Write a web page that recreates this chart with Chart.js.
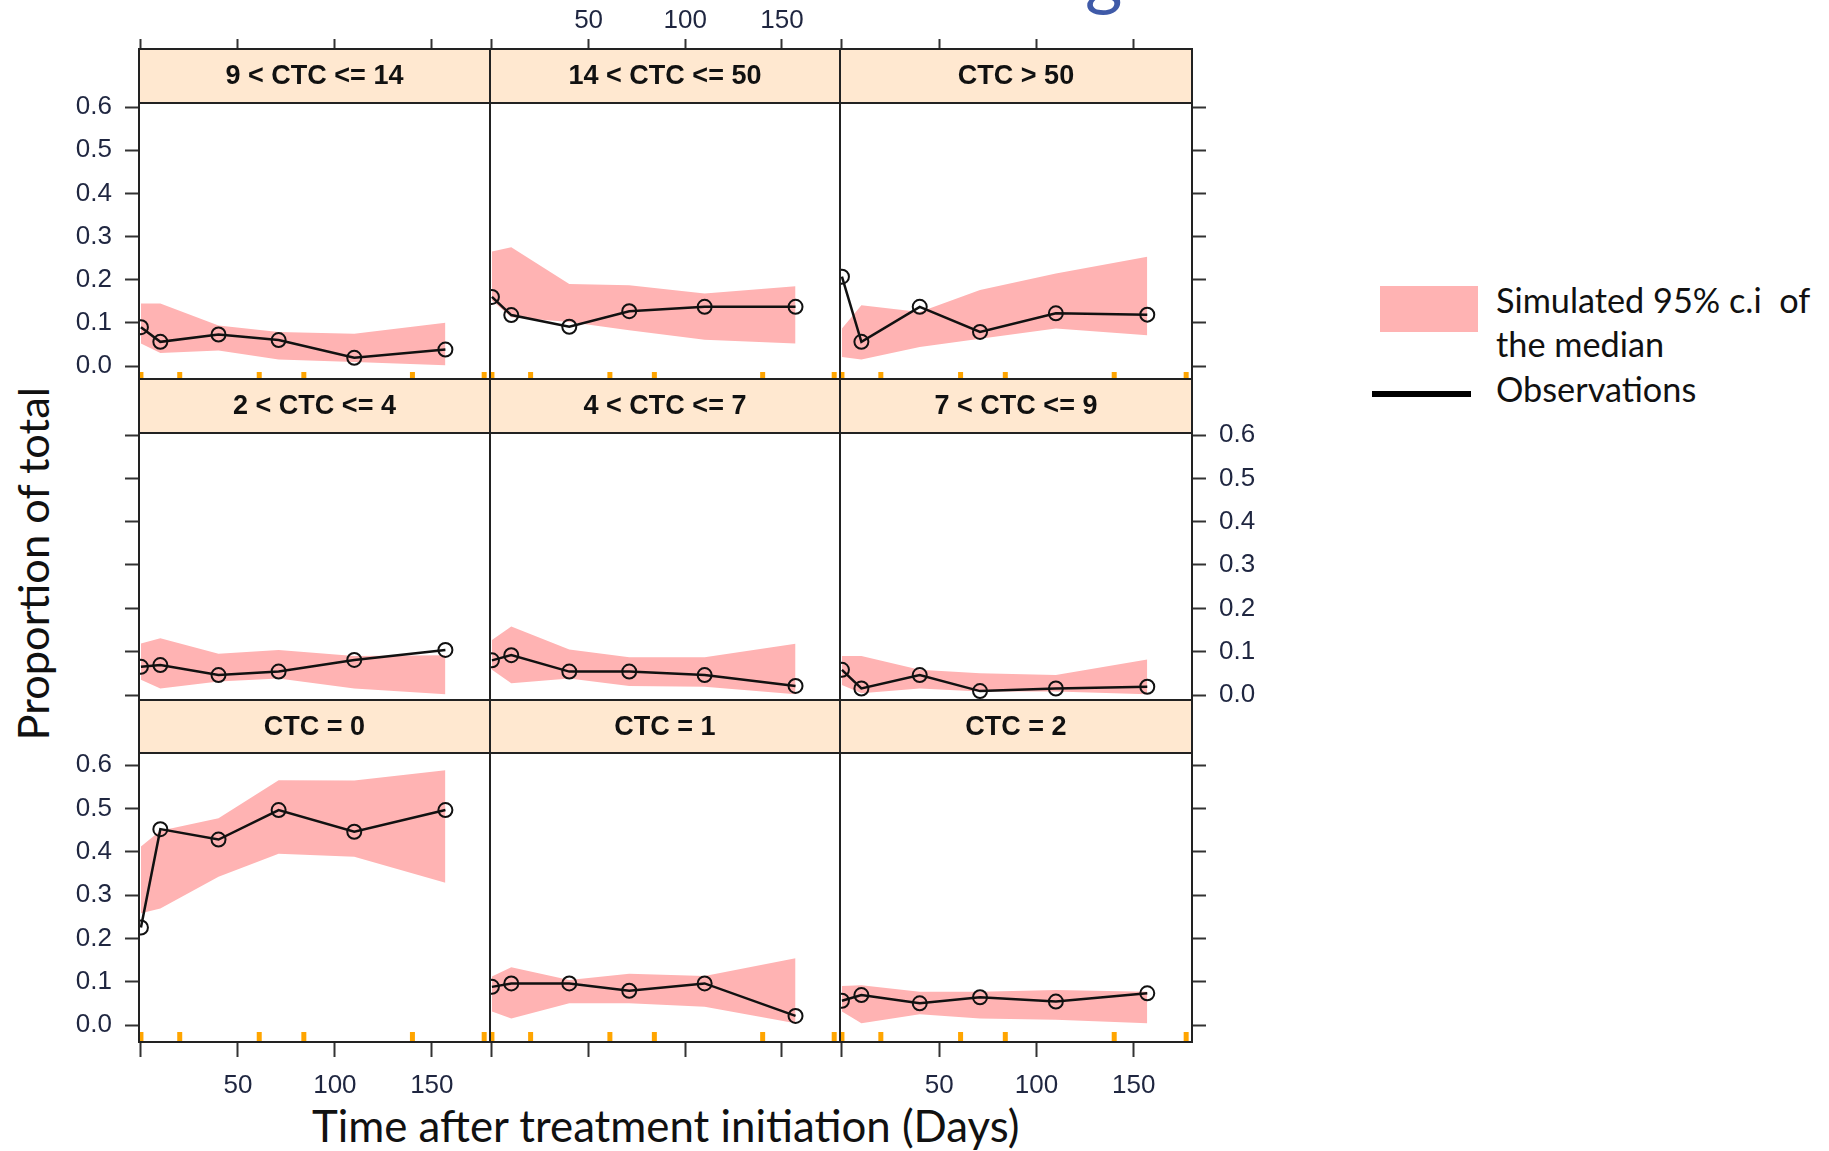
<!DOCTYPE html>
<html>
<head>
<meta charset="utf-8">
<script src="https://cdn.jsdelivr.net/npm/chart.js@4.4.1/dist/chart.umd.min.js"></script>
<style>
  body { margin: 0; background: #fff; width: 1829px; height: 1151px; position: relative; overflow: hidden; }
  .txt { position: absolute; white-space: nowrap; font-family: Lato, "Open Sans", sans-serif; color: #111; line-height: 1; }
  .box { position: absolute; }
</style>
</head>
<body>

<div class="txt" id="ytitle">Proportion of total</div>
<div class="txt" id="xtitle">Time after treatment initiation (Days)</div>
<div class="txt" id="gfrag" style="color:#3F5AA8">g</div>

<div class="box" style="left:1380px;top:286px;width:98px;height:46px;background:#FFB3B3"></div>
<div class="box" style="left:1372px;top:391px;width:99px;height:6px;background:#000"></div>
<div class="txt" id="leg1">Simulated 95% c.i&nbsp; of</div>
<div class="txt" id="leg2">the median</div>
<div class="txt" id="leg3">Observations</div>

<script>
// observation / bin times (days)
const days = [0, 10, 40, 71, 110, 157];
// orange rug marks at the bottom of the panels
const rugDays = [0, 20, 61, 84, 140, 177];
const yTicks = [0, 0.1, 0.2, 0.3, 0.4, 0.5, 0.6];
const xTicks = [0, 50, 100, 150];
const xLabels = ['', '50', '100', '150'];

// panels, top-left to bottom-right
const panelTitles = [
    '9 < CTC <= 14', '14 < CTC <= 50', 'CTC > 50',
    '2 < CTC <= 4', '4 < CTC <= 7', '7 < CTC <= 9',
    'CTC = 0', 'CTC = 1', 'CTC = 2'
];

const observed = [
    [0.090, 0.056, 0.073, 0.060, 0.019, 0.038],
    [0.160, 0.118, 0.091, 0.127, 0.137, 0.137],
    [0.207, 0.056, 0.137, 0.079, 0.122, 0.119],
    [0.065, 0.069, 0.046, 0.054, 0.081, 0.104],
    [0.080, 0.092, 0.054, 0.054, 0.046, 0.021],
    [0.058, 0.015, 0.046, 0.009, 0.015, 0.019],
    [0.225, 0.452, 0.428, 0.496, 0.446, 0.496],
    [0.088, 0.096, 0.096, 0.079, 0.096, 0.021],
    [0.056, 0.069, 0.050, 0.064, 0.054, 0.073]
];

const simUpper = [
    [0.145, 0.145, 0.094, 0.079, 0.075, 0.100],
    [0.265, 0.275, 0.190, 0.187, 0.168, 0.185],
    [0.087, 0.141, 0.125, 0.176, 0.214, 0.253],
    [0.119, 0.131, 0.095, 0.104, 0.090, 0.092],
    [0.127, 0.158, 0.105, 0.087, 0.087, 0.118],
    [0.090, 0.090, 0.058, 0.050, 0.046, 0.082],
    [0.412, 0.448, 0.477, 0.565, 0.564, 0.588],
    [0.112, 0.133, 0.104, 0.118, 0.113, 0.154],
    [0.090, 0.092, 0.077, 0.077, 0.081, 0.077]
];

const simLower = [
    [0.052, 0.030, 0.036, 0.015, 0.009, 0.002],
    [0.152, 0.113, 0.102, 0.083, 0.061, 0.052],
    [0.021, 0.015, 0.044, 0.063, 0.087, 0.071],
    [0.035, 0.015, 0.031, 0.038, 0.015, 0.002],
    [0.058, 0.027, 0.038, 0.021, 0.019, 0.002],
    [0.023, 0.004, 0.015, 0.008, 0.008, 0.002],
    [0.258, 0.269, 0.342, 0.395, 0.388, 0.328],
    [0.031, 0.015, 0.050, 0.050, 0.042, 0.004],
    [0.031, 0.004, 0.025, 0.015, 0.012, 0.004]
];

// page layout (px)
const cols = [[139, 490], [490, 840], [840, 1192]];
const rows = [
    { top: 49, strip: 54, bottom: 379, y6: 107, y0: 366, rug: 7 },
    { top: 379, strip: 54, bottom: 700, y6: 435, y0: 695, rug: 0 },
    { top: 700, strip: 53, bottom: 1042, y6: 765, y0: 1025, rug: 10 }
];
const M = { l: 130, r: 130, t: 60, b: 70 };
const tickFont = { family: '"Liberation Sans", Arial, sans-serif', size: 26 };
const tickColor = '#1f2640';
const bandColor = '#FFB3B3';

const stripPlugin = {
    id: 'strip',
    afterDatasetsDraw(chart, args, opts) {
        const { ctx, chartArea: a } = chart;
        const sb = a.top + opts.height;
        ctx.save();
        ctx.fillStyle = '#FFE8D0';
        ctx.fillRect(a.left, a.top, a.right - a.left, opts.height);
        ctx.strokeStyle = '#222';
        ctx.lineWidth = 2;
        ctx.strokeRect(a.left, a.top, a.right - a.left, a.bottom - a.top);
        ctx.beginPath();
        ctx.moveTo(a.left, sb);
        ctx.lineTo(a.right, sb);
        ctx.stroke();
        ctx.fillStyle = '#111';
        ctx.font = 'bold 27px "Liberation Sans", Arial, sans-serif';
        ctx.textAlign = 'center';
        ctx.textBaseline = 'middle';
        ctx.fillText(opts.text, (a.left + a.right) / 2, a.top + opts.height / 2 + 1);
        ctx.restore();
    }
};

panelTitles.forEach((title, i) => {
    const r = Math.floor(i / 3), c = i % 3;
    const row = rows[r];
    const [l, rt] = cols[c];
    const cw = rt - l + M.l + M.r;
    const ch = row.bottom - row.top + M.t + M.b;

    const canvas = document.createElement('canvas');
    canvas.width = cw;
    canvas.height = ch;
    canvas.style.cssText = `position:absolute;left:${l - M.l}px;top:${row.top - M.t}px;width:${cw}px;height:${ch}px`;
    document.body.appendChild(canvas);

    const ppu = (row.y0 - row.y6) / 0.6;
    const yMin = -(row.bottom - row.y0) / ppu;
    const yMax = 0.6 + (row.y6 - row.top) / ppu;

    const xShown = r !== 1;
    const xLabelled = (r === 0 && c === 1) || (r === 2 && c !== 1);
    const yShown = c !== 1;
    const yLabelled = (c === 0 && r !== 1) || (c === 2 && r === 1);

    const datasets = [
        {
            data: days.map((d, k) => ({ x: d, y: observed[i][k] })),
            borderColor: '#111',
            borderWidth: 2.5,
            pointRadius: 7,
            pointBorderWidth: 2,
            pointBorderColor: '#111',
            pointBackgroundColor: 'rgba(0,0,0,0)',
            fill: false,
            clip: 0
        },
        {
            data: row.rug ? rugDays.map(d => ({ x: d, y: yMin })) : [],
            showLine: false,
            pointStyle: 'line',
            rotation: 90,
            pointRadius: row.rug,
            borderColor: '#FFA500',
            borderWidth: 5,
            clip: 0
        },
        {
            data: days.map((d, k) => ({ x: d, y: simUpper[i][k] })),
            borderWidth: 0,
            pointRadius: 0,
            backgroundColor: bandColor,
            fill: '+1'
        },
        {
            data: days.map((d, k) => ({ x: d, y: simLower[i][k] })),
            borderWidth: 0,
            pointRadius: 0,
            fill: false
        }
    ];

    new Chart(canvas, {
        type: 'line',
        data: { datasets },
        plugins: [stripPlugin],
        options: {
            responsive: false,
            animation: false,
            devicePixelRatio: 1,
            events: [],
            layout: {
                padding: {
                    left: c === 0 ? 0 : M.l,
                    right: c === 2 ? 0 : M.r,
                    top: r === 0 ? 0 : M.t,
                    bottom: r === 2 ? 0 : M.b
                }
            },
            plugins: {
                legend: { display: false },
                tooltip: { enabled: false },
                strip: { text: title, height: row.strip }
            },
            scales: {
                x: {
                    type: 'linear',
                    min: -1,
                    max: 180,
                    display: xShown,
                    position: r === 0 ? 'top' : 'bottom',
                    afterBuildTicks: s => { s.ticks = xTicks.map(v => ({ value: v })); },
                    afterFit: s => { if (xShown) s.height = r === 0 ? M.t : M.b; },
                    grid: {
                        drawOnChartArea: false,
                        drawTicks: true,
                        tickLength: r === 0 ? 10 : 15,
                        tickWidth: 2,
                        tickColor: '#333'
                    },
                    border: { display: false },
                    ticks: {
                        autoSkip: false,
                        maxRotation: 0,
                        padding: r === 0 ? 3 : 13,
                        font: tickFont,
                        color: tickColor,
                        callback: (v, k) => xLabelled ? xLabels[k] : ''
                    }
                },
                y: {
                    type: 'linear',
                    min: yMin,
                    max: yMax,
                    display: yShown,
                    position: c === 2 ? 'right' : 'left',
                    afterBuildTicks: s => { s.ticks = yTicks.map(v => ({ value: v })); },
                    afterFit: s => { if (yShown) s.width = c === 2 ? M.r : M.l; },
                    grid: {
                        drawOnChartArea: false,
                        drawTicks: true,
                        tickLength: 14,
                        tickWidth: 2,
                        tickColor: '#333'
                    },
                    border: { display: false },
                    ticks: {
                        padding: 13,
                        font: tickFont,
                        color: tickColor,
                        callback: v => yLabelled ? v.toFixed(1) : ''
                    }
                }
            }
        }
    });
});

// outer texts: size each to the width it has in the picture, then set its baseline
const ASC = 0.887;
function fitText(id, width, base) {
    const el = document.getElementById(id);
    el.style.fontSize = base + 'px';
    const fs = base * width / el.offsetWidth;
    el.style.fontSize = fs + 'px';
    return el;
}
function putText(el, x, baseline) {
    const fs = parseFloat(el.style.fontSize);
    el.style.left = x + 'px';
    el.style.top = (baseline - ASC * fs) + 'px';
}

const xt = fitText('xtitle', 708, 44);
putText(xt, 312, 1143);

const yt = fitText('ytitle', 354, 40);
const yfs = parseFloat(yt.style.fontSize);
const yw = yt.offsetWidth, yh = yt.offsetHeight;
const ycx = 49 - (ASC - 0.5) * yfs, ycy = 563;
yt.style.left = (ycx - yw / 2) + 'px';
yt.style.top = (ycy - yh / 2) + 'px';
yt.style.transform = 'rotate(-90deg)';

const l1 = fitText('leg1', 314, 36);
const lfs = parseFloat(l1.style.fontSize);
putText(l1, 1496, 313);
['leg2', 'leg3'].forEach((id, k) => {
    const el = document.getElementById(id);
    el.style.fontSize = lfs + 'px';
    putText(el, 1496, k === 0 ? 357 : 402);
});

const g = document.getElementById('gfrag');
g.style.fontSize = '72px';
putText(g, 1085, 2);
</script>
</body>
</html>
